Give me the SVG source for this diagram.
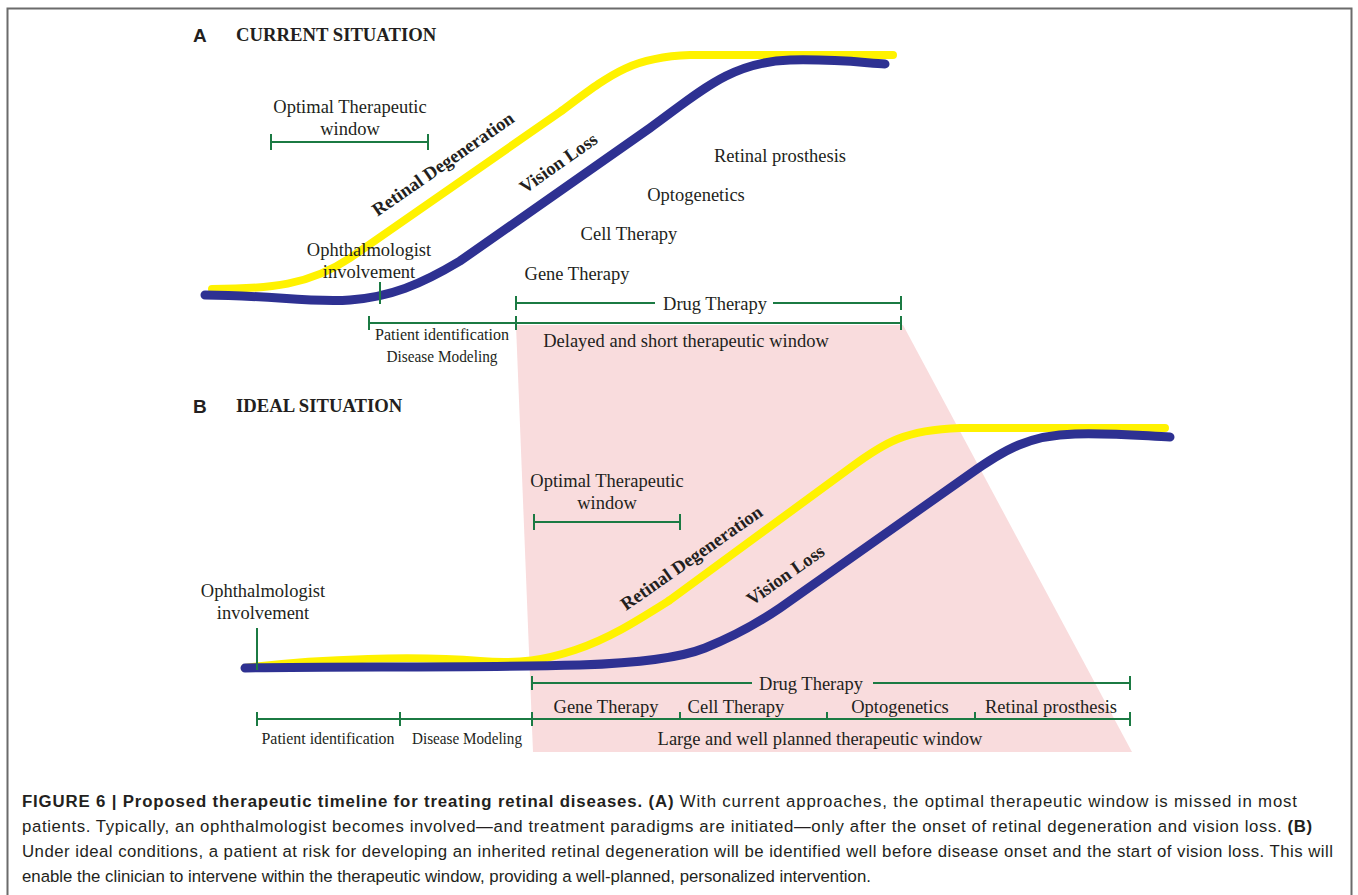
<svg xmlns="http://www.w3.org/2000/svg" width="1358" height="895" viewBox="0 0 1358 895">
<style>
.lbl{font-family:"Liberation Serif",serif;font-size:18.5px;fill:#231f20}
.sm{font-size:17px}
.b{font-weight:bold}
.head{font-family:"Liberation Serif",serif;font-size:18.7px;font-weight:bold;fill:#231f20}
.let{font-family:"Liberation Sans",Arial,sans-serif;font-size:19px;font-weight:bold;fill:#231f20}
.cap{font-family:"Liberation Sans",Arial,sans-serif;font-size:16.8px;fill:#231f20}
.bar{stroke:#1b7a43;stroke-width:2;fill:none}
.yel{stroke:#fff200;stroke-width:8;fill:none;stroke-linecap:round}
.blu{stroke:#2e3192;stroke-width:9;fill:none;stroke-linecap:round}
</style>
<rect x="0" y="0" width="1358" height="895" fill="#ffffff"/>
<path d="M7.5,910 V8.5 H1351.5 V910" fill="none" stroke="#6b6b6b" stroke-width="2"/>
<polygon id="window-band" points="516,325 903,325 1132,752 533,752" fill="#f9dcdd"/>

<g id="curves">
  <path class="yel" d="M212,289 C270,289 310,285 350,258 L560,112 C610,75 630,57 690,55 L893,55"/>
  <path class="blu" d="M205,295 C270,295 310,303 350,300 C390,297 420,285 460,261 L650,128 C700,92 730,62 790,60 C840,59 865,63 885,64"/>
  <path class="yel" d="M245,668 C320,658 420,656 480,661 C520,664 545,660 575,650 C610,638 635,622 670,600 L850,468 C885,442 905,430 960,428 L1165,428"/>
  <path class="blu" d="M245,668 C330,666 460,668 580,665 C640,663 680,658 705,648 C735,636 755,625 780,608 L970,474 C1005,449 1030,435 1075,434 C1115,433 1145,436 1170,437"/>
</g>

<g id="connectors">
  <path class="bar" d="M271,142 H428 M271,134 V150 M428,134 V150"/>
  <path class="bar" d="M380,282 V304"/>
  <path class="bar" d="M516,303 H655 M773,303 H901 M516,296 V310 M901,296 V310"/>
  <path class="bar" d="M369,323 H901 M369,316 V330 M516,316 V330 M901,316 V330"/>
  <path class="bar" d="M534,522 H680 M534,514 V530 M680,514 V530"/>
  <path class="bar" d="M257,628 V670"/>
  <path class="bar" d="M532,683 H752 M873,683 H1130 M532,676 V690 M1130,676 V690"/>
  <path class="bar" d="M257,719 H1130 M257,712 V726 M400,712 V726 M532,712 V726 M1130,712 V726 M680,712 V719 M827,712 V719 M975,712 V719"/>
</g>

<g id="panel-a-title">
  <text class="let" x="193" y="42">A</text>
  <text class="head" x="236" y="41">CURRENT SITUATION</text>
</g>
<g id="a-optimal-window">
  <text class="lbl" x="350" y="113" text-anchor="middle">Optimal Therapeutic</text>
  <text class="lbl" x="350" y="135" text-anchor="middle">window</text>
</g>
<g id="a-retinal-degeneration">
  <text class="lbl b" font-size="19.5" x="0" y="0" text-anchor="middle" transform="translate(446.5,169) rotate(-34.7)">Retinal Degeneration</text>
</g>
<g id="a-vision-loss">
  <text class="lbl b" font-size="19.5" x="0" y="0" text-anchor="middle" transform="translate(562,168) rotate(-35)">Vision Loss</text>
</g>
<g id="a-ophthalmologist">
  <text class="lbl" x="369" y="256" text-anchor="middle">Ophthalmologist</text>
  <text class="lbl" x="369" y="278" text-anchor="middle">involvement</text>
</g>
<g id="a-therapies">
  <text class="lbl" x="780" y="162" text-anchor="middle">Retinal prosthesis</text>
  <text class="lbl" x="696" y="201" text-anchor="middle">Optogenetics</text>
  <text class="lbl" x="629" y="240" text-anchor="middle">Cell Therapy</text>
  <text class="lbl" x="577" y="280" text-anchor="middle">Gene Therapy</text>
</g>
<g id="a-drug-therapy">
  <text class="lbl" x="715" y="310" text-anchor="middle">Drug Therapy</text>
</g>
<g id="a-patient">
  <text class="lbl sm" x="442" y="340" text-anchor="middle" textLength="134" lengthAdjust="spacingAndGlyphs">Patient identification</text>
  <text class="lbl sm" x="442" y="362" text-anchor="middle" textLength="111" lengthAdjust="spacingAndGlyphs">Disease Modeling</text>
</g>
<g id="a-delayed-window">
  <text class="lbl" x="686" y="347" text-anchor="middle">Delayed and short therapeutic window</text>
</g>

<g id="panel-b-title">
  <text class="let" x="193" y="413">B</text>
  <text class="head" x="236" y="412">IDEAL SITUATION</text>
</g>
<g id="b-optimal-window">
  <text class="lbl" x="607" y="487" text-anchor="middle">Optimal Therapeutic</text>
  <text class="lbl" x="607" y="509" text-anchor="middle">window</text>
</g>
<g id="b-retinal-degeneration">
  <text class="lbl b" font-size="19.5" x="0" y="0" text-anchor="middle" transform="translate(695,563) rotate(-34.9)">Retinal Degeneration</text>
</g>
<g id="b-vision-loss">
  <text class="lbl b" font-size="19.5" x="0" y="0" text-anchor="middle" transform="translate(789,580) rotate(-35)">Vision Loss</text>
</g>
<g id="b-ophthalmologist">
  <text class="lbl" x="263" y="597" text-anchor="middle">Ophthalmologist</text>
  <text class="lbl" x="263" y="619" text-anchor="middle">involvement</text>
</g>
<g id="b-drug-therapy">
  <text class="lbl" x="811" y="690" text-anchor="middle">Drug Therapy</text>
</g>
<g id="b-therapies">
  <text class="lbl" x="606" y="713" text-anchor="middle">Gene Therapy</text>
  <text class="lbl" x="736" y="713" text-anchor="middle">Cell Therapy</text>
  <text class="lbl" x="900" y="713" text-anchor="middle">Optogenetics</text>
  <text class="lbl" x="1051" y="713" text-anchor="middle">Retinal prosthesis</text>
</g>
<g id="b-patient">
  <text class="lbl sm" x="328" y="744" text-anchor="middle" textLength="133" lengthAdjust="spacingAndGlyphs">Patient identification</text>
  <text class="lbl sm" x="467" y="744" text-anchor="middle" textLength="110" lengthAdjust="spacingAndGlyphs">Disease Modeling</text>
</g>
<g id="b-large-window">
  <text class="lbl" x="820" y="745" text-anchor="middle">Large and well planned therapeutic window</text>
</g>

<g id="caption">
  <text class="cap" x="22" y="807" textLength="1275" lengthAdjust="spacing"><tspan font-weight="bold">FIGURE 6 | Proposed therapeutic timeline for treating retinal diseases. (A)</tspan> With current approaches, the optimal therapeutic window is missed in most</text>
  <text class="cap" x="22" y="832" textLength="1290" lengthAdjust="spacing">patients. Typically, an ophthalmologist becomes involved—and treatment paradigms are initiated—only after the onset of retinal degeneration and vision loss. <tspan font-weight="bold">(B)</tspan></text>
  <text class="cap" x="22" y="857" textLength="1311" lengthAdjust="spacing">Under ideal conditions, a patient at risk for developing an inherited retinal degeneration will be identified well before disease onset and the start of vision loss. This will</text>
  <text class="cap" x="22" y="882">enable the clinician to intervene within the therapeutic window, providing a well-planned, personalized intervention.</text>
</g>
</svg>
